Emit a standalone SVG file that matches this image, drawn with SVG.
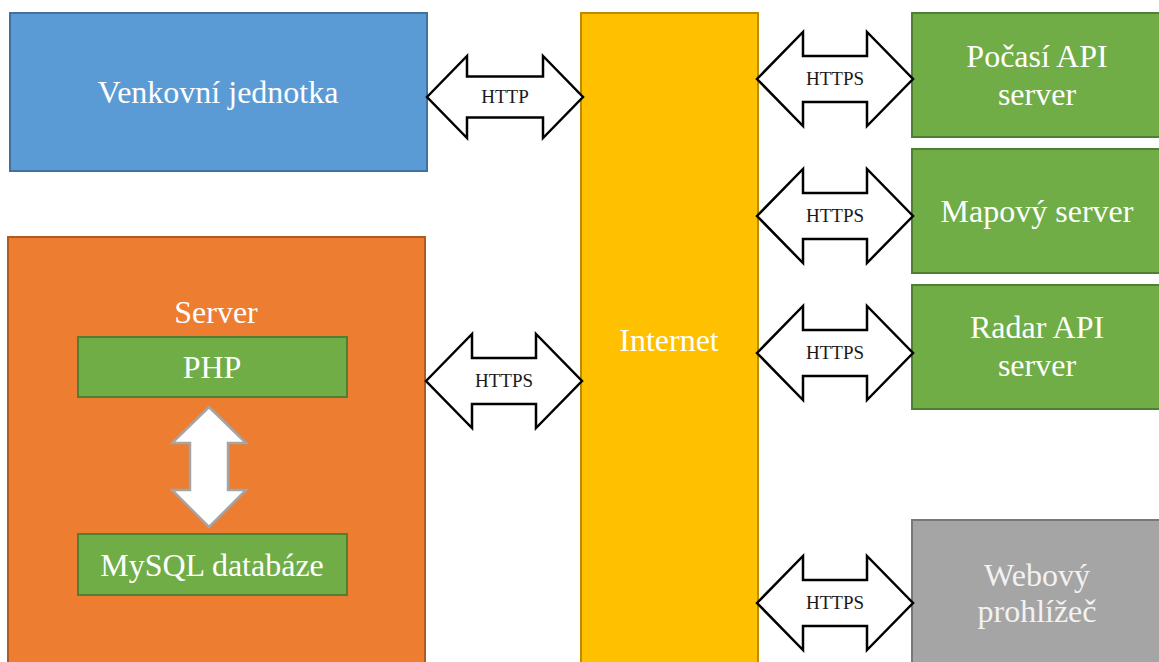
<svg xmlns="http://www.w3.org/2000/svg" width="1159" height="662" viewBox="0 0 1159 662">
<style>
.lbl{font-family:"Liberation Serif","Times New Roman",serif;font-size:32px;fill:#ffffff;text-anchor:middle}
.al{font-family:"Liberation Serif","Times New Roman",serif;font-size:19px;fill:#1a1a1a;text-anchor:middle}
.blue{fill:#5B9BD5;stroke:#41719C;stroke-width:2}
.orange{fill:#ED7D31;stroke:#AE5A21;stroke-width:2}
.yellow{fill:#FFC000;stroke:#BC8C00;stroke-width:2}
.green{fill:#70AD47;stroke:#507E32;stroke-width:2}
.gray{fill:#A5A5A5;stroke:#787878;stroke-width:2}
.arr{fill:#ffffff;stroke:#000000;stroke-width:2.5;stroke-linejoin:miter}
.varr{fill:#ffffff;stroke:#A5A5A5;stroke-width:2.5}
</style>
<rect width="1159" height="662" fill="#ffffff"/>
<g id="venkovni">
<rect class="blue" x="10" y="13" width="417" height="158"/>
<text class="lbl" x="218" y="103">Venkovní jednotka</text>
</g>
<g id="server">
<rect class="orange" x="8" y="237" width="417" height="440"/>
<text class="lbl" x="216" y="323">Server</text>
</g>
<g id="php">
<rect class="green" x="78" y="337" width="269" height="60"/>
<text class="lbl" x="212" y="378">PHP</text>
</g>
<g id="mysql">
<rect class="green" x="78" y="534" width="269" height="61"/>
<text class="lbl" x="212" y="576">MySQL databáze</text>
</g>
<g id="internet">
<rect class="yellow" x="581" y="13" width="177" height="665"/>
<text class="lbl" x="669" y="351">Internet</text>
</g>
<g id="pocasi">
<rect class="green" x="912" y="13" width="252" height="124"/>
<text class="lbl" x="1037" y="67">Počasí API</text>
<text class="lbl" x="1037" y="105">server</text>
</g>
<g id="mapovy">
<rect class="green" x="912" y="149" width="252" height="124"/>
<text class="lbl" x="1037" y="222">Mapový server</text>
</g>
<g id="radar">
<rect class="green" x="912" y="285" width="252" height="124"/>
<text class="lbl" x="1037" y="338">Radar API</text>
<text class="lbl" x="1037" y="376">server</text>
</g>
<g id="webovy">
<rect class="gray" x="912" y="520" width="252" height="160"/>
<text class="lbl" x="1037" y="586" style="fill:#f2f2f2">Webový</text>
<text class="lbl" x="1037" y="622" style="fill:#f2f2f2">prohlížeč</text>
</g>
<g id="connectors">
<path class="arr" d="M427,97 L467,56 L467,76.5 L543,76.5 L543,56 L583,97 L543,138 L543,117.5 L467,117.5 L467,138 Z"/>
<text class="al" x="505" y="103">HTTP</text>
<path class="arr" d="M426,381 L472,334 L472,358 L536,358 L536,334 L582,381 L536,428 L536,404 L472,404 L472,428 Z"/>
<text class="al" x="504" y="387">HTTPS</text>
<path class="arr" d="M757,79 L803,32 L803,56 L867,56 L867,32 L913,79 L867,126 L867,102 L803,102 L803,126 Z"/>
<text class="al" x="835" y="85">HTTPS</text>
<path class="arr" d="M757,216 L803,169 L803,193 L867,193 L867,169 L913,216 L867,263 L867,239 L803,239 L803,263 Z"/>
<text class="al" x="835" y="222">HTTPS</text>
<path class="arr" d="M757,353 L803,306 L803,330 L867,330 L867,306 L913,353 L867,400 L867,376 L803,376 L803,400 Z"/>
<text class="al" x="835" y="359">HTTPS</text>
<path class="arr" d="M757,603 L803,556 L803,580 L867,580 L867,556 L913,603 L867,650 L867,626 L803,626 L803,650 Z"/>
<text class="al" x="835" y="609">HTTPS</text>
<path class="varr" d="M209,407 L246,443 L228,443 L228,490 L246,490 L209,527 L172,490 L190,490 L190,443 L172,443 Z"/>
</g>
</svg>
